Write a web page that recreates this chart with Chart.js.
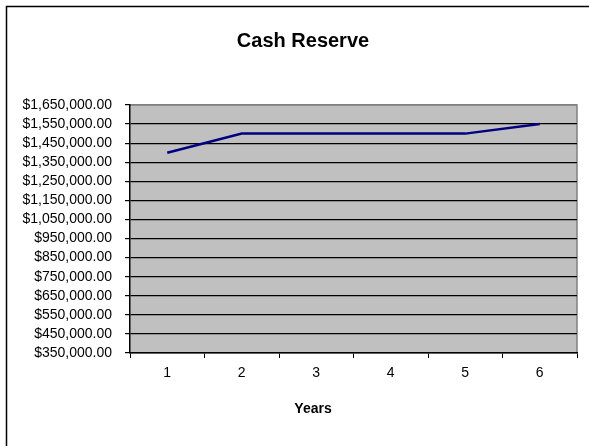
<!DOCTYPE html>
<html>
<head>
<meta charset="utf-8">
<script src="https://cdn.jsdelivr.net/npm/chart.js@4/dist/chart.umd.min.js"></script>
<style>
    html, body { margin: 0; padding: 0; background: #fff; }
    #wrap { width: 589px; height: 446px; position: relative; }
</style>
</head>
<body>
<div id="wrap"><canvas id="cashReserveChart"></canvas></div>
<script>
const yearLabels = ["1", "2", "3", "4", "5", "6"];
const cashReserveData = [1400000, 1500000, 1500000, 1500000, 1500000, 1550000];
const yMin = 350000;
const yMax = 1650000;
const yStep = 100000;

const fontFamily = "'Liberation Sans', Arial, sans-serif";

function formatMoney(v) {
    return '$' + Number(v).toLocaleString('en-US', { minimumFractionDigits: 2, maximumFractionDigits: 2 });
}

// grey plot area, outer frame and the two titles
const excelLook = {
    id: 'excelLook',
    beforeDraw(chart) {
        const { ctx, chartArea } = chart;
        ctx.save();
        ctx.fillStyle = '#c0c0c0';
        ctx.fillRect(chartArea.left, chartArea.top, chartArea.right - chartArea.left, chartArea.bottom - chartArea.top);
        ctx.strokeStyle = '#808080';
        ctx.lineWidth = 1.5;
        ctx.beginPath();
        ctx.moveTo(chartArea.left, chartArea.top);
        ctx.lineTo(chartArea.right, chartArea.top);
        ctx.lineTo(chartArea.right, chartArea.bottom);
        ctx.stroke();
        ctx.restore();
    },
    afterDraw(chart) {
        const { ctx } = chart;
        ctx.save();
        ctx.strokeStyle = '#000';
        ctx.lineWidth = 1.5;
        ctx.beginPath();
        ctx.moveTo(6.5, 446);
        ctx.lineTo(6.5, 6.5);
        ctx.lineTo(589, 6.5);
        ctx.stroke();

        ctx.fillStyle = '#000';
        ctx.textAlign = 'center';
        ctx.textBaseline = 'middle';
        ctx.font = 'bold 20px ' + fontFamily;
        ctx.fillText('Cash Reserve', 303, 41);
        ctx.font = 'bold 14px ' + fontFamily;
        ctx.fillText('Years', 313, 409);
        ctx.restore();
    }
};

const ctxCash = document.getElementById('cashReserveChart');
if (ctxCash) {
    new Chart(ctxCash, {
        type: 'line',
        data: {
            labels: yearLabels,
            datasets: [{
                label: 'Cash Reserve',
                data: cashReserveData,
                fill: false,
                borderColor: '#000080',
                borderWidth: 2.5,
                pointRadius: 0,
                tension: 0
            }]
        },
        options: {
            responsive: true,
            maintainAspectRatio: false,
            animation: false,
            layout: {
                padding: { left: 0, top: 105, right: 12, bottom: 63 }
            },
            plugins: {
                legend: { display: false },
                title: { display: false },
                tooltip: { enabled: false }
            },
            scales: {
                x: {
                    offset: true,
                    border: { color: '#000', width: 1.5 },
                    grid: {
                        offset: true,
                        drawOnChartArea: false,
                        tickLength: 5,
                        tickColor: '#000'
                    },
                    ticks: {
                        color: '#000',
                        padding: 7,
                        maxRotation: 0,
                        autoSkip: false,
                        font: { family: fontFamily, size: 14 }
                    },
                    afterFit: function (scale) { scale.height = 30; }
                },
                y: {
                    min: yMin,
                    max: yMax,
                    border: { color: '#000', width: 1.5 },
                    grid: {
                        color: (c) => (c.tick && c.tick.value === yMax ? '#808080' : '#000'),
                        lineWidth: 1.2,
                        tickLength: 5,
                        tickColor: '#000'
                    },
                    ticks: {
                        stepSize: yStep,
                        autoSkip: false,
                        color: '#000',
                        padding: 13,
                        font: { family: fontFamily, size: 14 },
                        callback: (v) => formatMoney(v)
                    },
                    afterFit: function (scale) { scale.width = 130; }
                }
            }
        },
        plugins: [excelLook]
    });
}
</script>
</body>
</html>
